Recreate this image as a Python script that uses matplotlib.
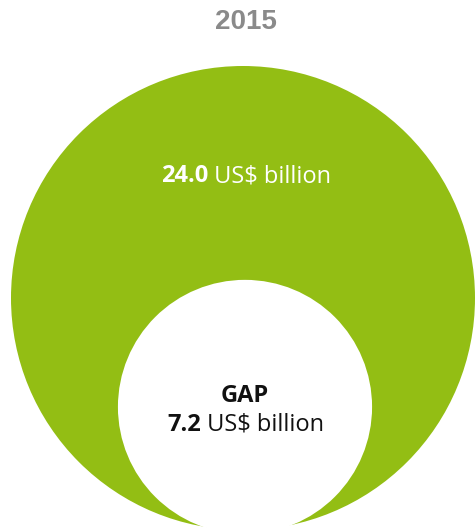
import matplotlib
matplotlib.use('Agg')
import matplotlib.pyplot as plt
from matplotlib.patches import Circle

year = '2015'
total = 24.0
gap = 7.2
unit = 'US$ billion'

green = '#93be14'
W, H = 475, 531

fig = plt.figure(figsize=(W / 100, H / 100), dpi=100)
ax = fig.add_axes([0, 0, 1, 1])
ax.set_xlim(0, W)
ax.set_ylim(H, 0)
ax.set_aspect('equal')
ax.axis('off')

# area-proportional circles, inner one sits on the bottom of the outer one
k = 232 / total ** 0.5
r_out = k * total ** 0.5
r_in = k * gap ** 0.5
cx, cy = 243, 298
ax.add_patch(Circle((cx, cy), r_out, color=green, lw=0))
ax.add_patch(Circle((cx + 2, cy + r_out - r_in + 4), r_in, color='white', lw=0))

ax.text(cx + 3, 22, year, ha='center', va='center', fontsize=20,
        fontweight='bold', color='#8a8a8a', family='Liberation Sans')

renderer = fig.canvas.get_renderer()
fs = 17


def mixed(x, y, bold, normal, color):
    t1 = ax.text(0, y, bold, fontsize=fs, fontweight='bold', color=color,
                 family='Open Sans', va='baseline', ha='left')
    t2 = ax.text(0, y, ' ' + normal, fontsize=fs, color=color,
                 family='Open Sans', va='baseline', ha='left')
    w1 = t1.get_window_extent(renderer).width
    w2 = t2.get_window_extent(renderer).width
    left = x - (w1 + w2) / 2
    t1.set_x(left)
    t2.set_x(left + w1)


mixed(246, 182, '%.1f' % total, unit, 'white')
ax.text(245, 402, 'GAP', ha='center', va='baseline', fontsize=fs,
        fontweight='bold', color='#111111', family='Open Sans')
mixed(246, 431, '%.1f' % gap, unit, '#111111')

fig.savefig('out.png', dpi=100)
